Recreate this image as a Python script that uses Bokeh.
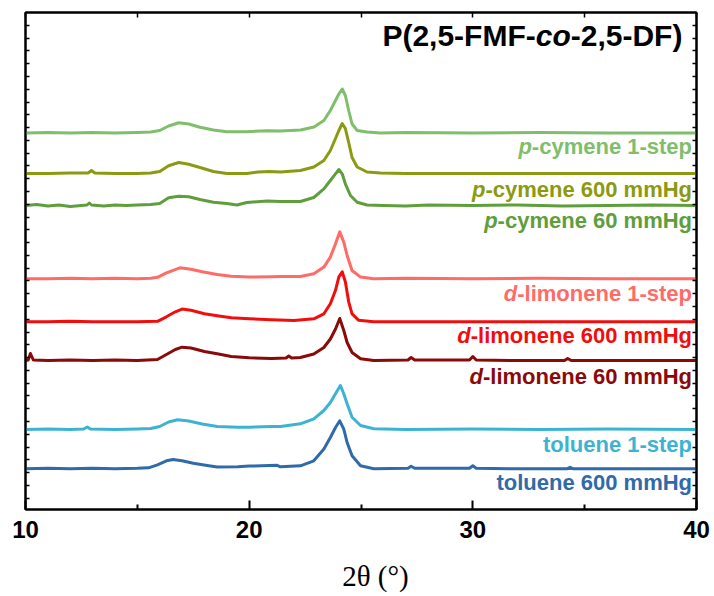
from bokeh.plotting import figure
from bokeh.models import Range1d, FixedTicker, LinearAxis, Label, CustomJSTickFormatter, ColumnDataSource
from bokeh.core.properties import value
from bokeh.embed import file_html
from bokeh.resources import INLINE

# ---------------- data (2theta in degrees, intensity in a.u. above own baseline) -------------
X_PC1 = [10, 11, 12, 13, 14, 15, 15.6, 16.0, 16.4, 16.85, 17.3, 17.8, 18.4, 19.0, 19.9, 20.8, 21.4, 22.3, 22.9,
         23.34, 23.63, 23.86, 24.01, 24.16, 24.30, 24.45, 24.60, 24.83, 25.27, 25.87, 27, 30, 33, 36, 40]
Y_PC1 = [0, 0.5, 0, 0.5, 0, 0.5, 1, 2.5, 7, 10.3, 9, 5.7, 3, 1.3, 1.3, 2.3, 2, 3, 6,
         12.5, 22.5, 32.5, 39, 44, 37.5, 22.5, 9, 2.5, 1, 0, 0.5, 0, 0.5, 0, 0]

X_PC600 = [10, 11, 12, 12.8, 12.95, 13.1, 14, 15, 15.6, 16.0, 16.4, 16.85, 17.3, 17.8, 18.4, 19.0, 19.9, 20.4,
           20.9, 21.4, 22.29, 22.89, 23.34, 23.63, 23.86, 24.01, 24.16, 24.30, 24.45, 24.60, 24.83, 25.27,
           25.87, 27, 30, 33, 36, 40]
Y_PC600 = [0, 0, 0.5, 0.5, 3, 0.5, 0, 0, 0.5, 2, 7.7, 11, 9.3, 6, 2, 0, 0, 1.5,
           2, 1.5, 3, 6.5, 13, 23, 35, 43, 50, 45, 31, 16, 6.5, 1.5,
           0.5, 0, 0, 0, 0, 0]

X_PC60 = [10, 10.5, 11, 11.5, 12, 12.5, 12.75, 12.85, 12.95, 13.5, 14, 14.5, 15, 15.6, 16.0, 16.4, 16.85, 17.3,
          17.8, 18.4, 19.0, 19.45, 19.9, 20.8, 21.4, 22.29, 22.89, 23.34, 23.63, 23.86, 24.01, 24.16, 24.30,
          24.53, 24.83, 25.27, 26, 27, 28, 30, 32, 34, 36, 38, 40]
Y_PC60 = [0, 1, -0.5, 0.5, -1, 0, 0.5, 2.5, 0.5, -0.5, 0.5, 0, 0.5, 1, 2, 7.7, 9.3, 8.7,
          6, 3.3, 2, 0.5, 3, 4.5, 4, 4, 8, 16.7, 25, 31.7, 36, 31.7, 21.7,
          10, 3.3, 0.5, 0, -0.5, 0.5, 0, 0.5, -0.5, 0, 0.5, 0]

X_DL1 = [10, 11, 12, 13, 14, 15, 15.6, 15.9, 16.3, 16.9, 17.4, 17.9, 18.57, 19.2, 20.0, 21.0, 21.4, 22.29,
         22.89, 23.34, 23.63, 23.86, 24.05, 24.23, 24.38, 24.60, 24.98, 25.57, 27, 30, 33, 36, 40]
Y_DL1 = [0, 0, 0.5, 0, 0.5, 0, 0.5, 1.5, 6, 11, 9.5, 7, 4.3, 2.5, 1.7, 2, 2.3, 2.3,
         5, 11.7, 21.7, 35, 47, 36.7, 23.3, 8.3, 1.7, 0, 0.5, 0, 0.5, 0, 0]

X_DL600 = [10, 11, 12, 13, 14, 15, 15.9, 16.3, 16.7, 17.0, 17.4, 18.0, 18.57, 19.2, 20.0, 21.0, 22.0, 22.89,
           23.34, 23.63, 23.86, 24.01, 24.16, 24.30, 24.45, 24.60, 24.90, 25.57, 27, 30, 33, 36, 40]
Y_DL600 = [0, 0, 0.5, 0, 0, 0, 0.5, 5, 10, 12.7, 11.5, 8, 6, 4, 3, 2, 1.3, 3,
           8, 18, 31.5, 45, 50, 40, 20, 8, 1.5, 0, 0, 0, 0, 0, 0]

X_DL60 = [10, 10.12, 10.22, 10.35, 11, 12, 13, 14, 15, 15.9, 16.3, 16.7, 17.0, 17.4, 18.0, 18.57, 19.2, 20.0,
          21.0, 21.65, 21.77, 21.9, 22.29, 22.89, 23.34, 23.63, 23.86, 24.05, 24.23, 24.38, 24.60, 24.98, 25.57,
          27.1, 27.24, 27.4, 29.85, 30.0, 30.15, 32, 34.1, 34.24, 34.4, 36, 40]
Y_DL60 = [0, 0.5, 7, 0.5, 0, 0.5, 0, 0.5, 0, 1, 6, 11, 13.3, 12.5, 9, 6.7, 4, 2.7,
          2, 2.5, 4.5, 2.5, 3, 6.5, 13, 21.5, 31.5, 42, 30, 18, 8, 1.7, 0,
          0.5, 3, 0.5, 0.5, 4, 0.5, 0, 0, 2, 0, 0, 0]

X_TOL1 = [10, 11, 12, 12.6, 12.76, 12.9, 14, 15, 15.6, 16.0, 16.4, 16.8, 17.3, 17.9, 18.57, 19.5, 20.0, 21.0,
          21.4, 22.29, 22.89, 23.34, 23.63, 23.86, 24.08, 24.23, 24.38, 24.60, 24.98, 25.57, 27, 30, 33, 36, 40]
Y_TOL1 = [0, 0.5, 0, 0.5, 2.5, 0.5, 0, 0.5, 1, 3, 7.5, 9.7, 8.5, 5.5, 3, 2.3, 2.3, 3,
          3, 5.7, 10.7, 19, 27, 35.7, 44, 35.7, 25.7, 12.3, 4, 0.7, 0, 0.5, 0, 0.5, 0]

X_TOL600 = [10, 11, 12, 13, 14, 15, 15.5, 15.9, 16.3, 16.6, 17.0, 17.5, 18.12, 18.57, 19.5, 20.0, 21.25, 21.4,
            22.29, 22.89, 23.34, 23.63, 23.86, 24.05, 24.23, 24.38, 24.60, 24.98, 25.57, 27.1, 27.24, 27.4,
            29.85, 30.0, 30.15, 32, 34.2, 34.35, 34.5, 36, 40]
Y_TOL600 = [0, 0.5, 0, 0.5, 0, 0.5, 1, 4, 8, 9.3, 8, 5.5, 3.3, 1.7, 2, 2.7, 3.5, 2,
            3, 8, 19.7, 31.3, 41.3, 48, 39.7, 26.3, 13, 3, 0, 0.5, 2.5, 0.5,
            0.5, 3, 0.5, 0, 0, 1.5, 0, 0, 0]

# vertical stacking offsets (a.u.)
OFFSETS = [376.5, 336, 304, 230.7, 187.7, 149, 80, 40.7]
SERIES_X = [X_PC1, X_PC600, X_PC60, X_DL1, X_DL600, X_DL60, X_TOL1, X_TOL600]
SERIES_Y = [Y_PC1, Y_PC600, Y_PC60, Y_DL1, Y_DL600, Y_DL60, Y_TOL1, Y_TOL600]
COLORS = ["#7fbe6b", "#8c9a12", "#5f9e3c", "#ff6b66", "#f20d0d", "#8a0a0a", "#3db3d3", "#2f6aaa"]

LABEL_PREFIX = ["p", "p", "p", "d", "d", "d", "", ""]
LABEL_REST = ["-cymene 1-step", "-cymene 600 mmHg", "-cymene 60 mmHg",
              "-limonene 1-step", "-limonene 600 mmHg", "-limonene 60 mmHg",
              "toluene 1-step", "toluene 600 mmHg"]
LABEL_Y = [363, 320.5, 289.5, 216.5, 174.5, 133, 65.5, 27]

TITLE_PARTS = ["P(2,5-FMF-", "co", "-2,5-DF)"]
X_TICKS = [10, 20, 30, 40]
X_MINOR = [15, 25, 35]
X_LABEL = "\u00a0\u00a0\u00a0\u00a02θ (°)"

# --------------- helpers for text widths (Arial/Liberation Sans Bold metrics) ---------------
W = {' ': 278, '-': 333, 'c': 556, 'y': 556, 'm': 889, 'e': 556, 'n': 611, 's': 556, 't': 333,
     'p': 611, 'H': 722, 'g': 611, 'l': 278, 'i': 278, 'o': 611, 'u': 611, 'd': 611, 'P': 667,
     '(': 333, ')': 333, ',': 278, 'F': 611, 'M': 833, 'D': 722}
for ch in "0123456789":
    W[ch] = 556


def tw(s, size):
    return sum(W.get(ch, 556) for ch in s) / 1000.0 * size


FONT = "Liberation Sans"
LAB_SIZE = 22
TITLE_SIZE = 30

p = figure(frame_width=671, frame_height=497, x_range=Range1d(10, 40), y_range=Range1d(0, 497),
           output_backend="svg", toolbar_location=None,
           min_border_left=25, min_border_right=17, min_border_top=12, min_border_bottom=84)
p.xgrid.visible = False
p.ygrid.visible = False
p.outline_line_color = "black"
p.outline_line_width = 2
p.background_fill_color = "white"
p.border_fill_color = "white"

# curves
for xs, ys, off, col in zip(SERIES_X, SERIES_Y, OFFSETS, COLORS):
    p.line([float(x) for x in xs], [off + y for y in ys], line_color=col, line_width=3, line_join="round")

# labels
rest_w = [tw(s, LAB_SIZE) for s in LABEL_REST]
src_rest = ColumnDataSource(dict(x=[39.8] * len(LABEL_REST), y=LABEL_Y, text=LABEL_REST, color=COLORS))
p.text(x="x", y="y", text="text", source=src_rest, text_color="color", text_align="right",
       text_baseline="alphabetic", text_font=value(FONT), text_font_style="bold",
       text_font_size=f"{LAB_SIZE}px")
src_pre = ColumnDataSource(dict(x=[39.8] * len(LABEL_PREFIX), y=LABEL_Y, text=LABEL_PREFIX, color=COLORS,
                                xo=[-w for w in rest_w]))
p.text(x="x", y="y", text="text", source=src_pre, text_color="color", text_align="right",
       text_baseline="alphabetic", text_font=value(FONT), text_font_style="bold italic",
       text_font_size=f"{LAB_SIZE}px", x_offset="xo")

# title
w3 = tw(TITLE_PARTS[2], TITLE_SIZE)
w2 = tw(TITLE_PARTS[1], TITLE_SIZE)
offs = [-(w3 + w2), -w3, 0]
styles = ["bold", "bold italic", "bold"]
for part, o, st in zip(TITLE_PARTS, offs, styles):
    p.add_layout(Label(x=39.37, y=474, text=part, x_offset=o, text_align="right", text_baseline="alphabetic",
                       text_font=FONT, text_font_style=st, text_font_size=f"{TITLE_SIZE}px", text_color="black"))

# axes
blank = CustomJSTickFormatter(code="return ''")
y_ticks = [11.3 + 12.78 * k for k in range(38)]

xb = p.xaxis[0]
xb.ticker = FixedTicker(ticks=X_TICKS, minor_ticks=X_MINOR)
xb.major_tick_in = 9
xb.major_tick_out = 0
xb.minor_tick_in = 5
xb.minor_tick_out = 0
xb.axis_line_width = 2
xb.major_tick_line_width = 2
xb.minor_tick_line_width = 2
xb.major_label_text_font = FONT
xb.major_label_text_font_style = "bold"
xb.major_label_text_font_size = "24px"
xb.major_label_text_color = "black"
xb.major_label_standoff = 11
xb.axis_label = X_LABEL
xb.axis_label_text_font = "Liberation Serif"
xb.axis_label_text_font_style = "normal"
xb.axis_label_text_font_size = "29px"
xb.axis_label_text_color = "black"
xb.axis_label_standoff = 19

yl = p.yaxis[0]
yl.ticker = FixedTicker(ticks=y_ticks)
yl.formatter = blank
yl.major_label_text_font_size = "0px"
yl.major_label_standoff = 0
yl.major_tick_in = 4
yl.major_tick_out = 0
yl.minor_tick_line_color = None
yl.axis_line_width = 2
yl.major_tick_line_width = 1.5

xt = LinearAxis(ticker=FixedTicker(ticks=X_TICKS, minor_ticks=X_MINOR), formatter=blank,
                major_label_text_font_size="0px", major_label_standoff=0,
                major_tick_in=5, major_tick_out=0, minor_tick_in=5, minor_tick_out=0,
                axis_line_width=2, major_tick_line_width=1.5, minor_tick_line_width=1.5)
p.add_layout(xt, "above")

yr = LinearAxis(ticker=FixedTicker(ticks=y_ticks), formatter=blank,
                major_label_text_font_size="0px", major_label_standoff=0,
                major_tick_in=4, major_tick_out=0, minor_tick_line_color=None,
                axis_line_width=2, major_tick_line_width=1.5)
p.add_layout(yr, "right")

open("out.html", "w").write(file_html(p, INLINE))
